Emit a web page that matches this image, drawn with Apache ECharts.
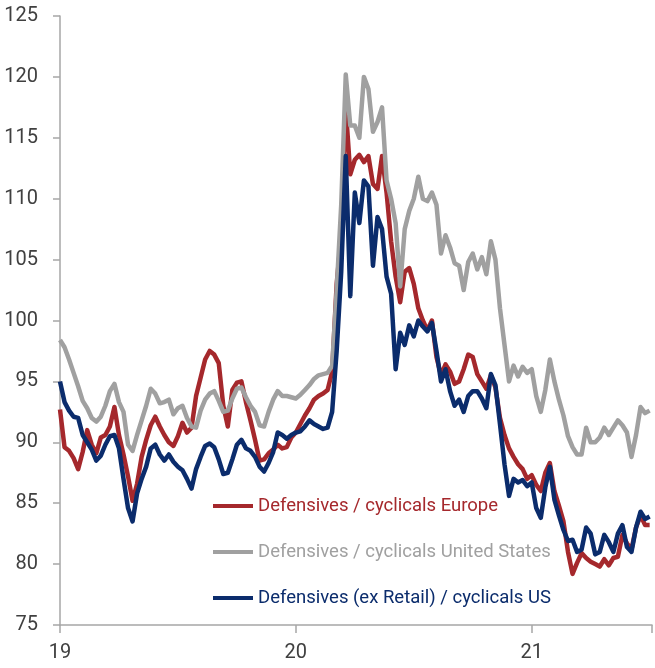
<!DOCTYPE html>
<html>
<head>
<meta charset="utf-8">
<script src="https://cdn.jsdelivr.net/npm/echarts@6/dist/echarts.min.js"></script>
<style>
html,body{margin:0;padding:0;background:#fff;}
#chart{width:655px;height:668px;}
</style>
</head>
<body>
<div id="chart"></div>
<script>
// Weekly observations starting first week of January 2019 (x = 2019 + week/52)
const startYear = 2019;
const weeksPerYear = 52;
const xMax = 2021.51;
const yearTicks = ['19', '20', '21'];
const seriesNames = [
  'Defensives / cyclicals Europe',
  'Defensives / cyclicals United States',
  'Defensives (ex Retail) / cyclicals US'
];
const seriesColors = ['#A5282C', '#A0A0A0', '#0B2C6C'];

const europe = [
  92.7, 89.6, 89.3, 88.7, 87.8, 89.2, 91.0, 89.8, 89.1, 90.4,
  90.6, 91.3, 92.9, 90.6, 89.0, 87.2, 85.2, 86.6, 88.8, 90.2,
  91.4, 92.1, 91.3, 90.6, 90.0, 89.7, 90.5, 91.6, 90.8, 91.2,
  93.8, 95.3, 96.8, 97.5, 97.2, 96.5, 93.0, 91.3, 94.3, 94.9,
  95.0, 93.3, 91.8, 90.2, 88.5, 88.6, 89.1, 89.4, 89.8, 89.5,
  89.6, 90.4, 90.8, 91.5, 92.2, 92.8, 93.5, 93.8, 94.0, 94.3,
  95.8, 103.0, 107.0, 117.5, 112.0, 113.2, 113.6, 113.0, 113.5, 111.2,
  110.8, 113.5, 110.5, 106.5, 103.6, 101.5, 104.0, 104.3, 103.0, 101.0,
  100.0, 99.2, 100.0, 97.0, 95.5, 96.4, 95.8, 94.8, 95.0, 96.0,
  97.2, 97.0, 95.6, 95.0, 94.4, 95.5, 94.5, 92.0, 90.6, 89.5,
  88.8, 88.2, 87.8, 87.0, 87.3, 86.5, 86.0, 87.5, 88.3, 86.0,
  84.8, 83.5, 81.0, 79.2, 80.1, 80.9, 80.5, 80.2, 80.0, 79.8,
  80.4, 79.9, 80.5, 80.6, 82.4, 81.7, 81.2, 83.0, 84.0, 83.2,
  83.2
];

const unitedStates = [
  98.4, 97.8, 96.8, 95.7, 94.6, 93.4, 92.8, 92.0, 91.7, 92.1,
  93.0, 94.2, 94.8, 93.3, 92.5, 89.8, 89.3, 90.6, 91.8, 93.0,
  94.4, 94.0, 93.2, 93.3, 93.5, 92.3, 92.8, 93.0, 92.0, 91.3,
  91.2, 92.6, 93.5, 94.0, 94.2, 93.4, 92.5, 92.6, 93.6, 94.4,
  94.5, 93.7, 93.0, 92.5, 91.4, 91.3, 92.5, 93.5, 94.2, 93.8,
  93.8, 93.7, 93.6, 93.9, 94.3, 94.7, 95.2, 95.5, 95.6, 95.7,
  96.3, 102.5, 109.5, 120.2, 116.0, 116.0, 115.0, 120.0, 119.0, 115.5,
  116.3, 117.5, 111.5, 110.0, 108.0, 102.8, 107.5, 109.0, 110.0, 111.8,
  110.0, 109.8, 110.5, 109.5, 105.5, 107.0, 106.0, 104.7, 104.5, 102.5,
  104.8, 105.5, 104.2, 105.2, 103.8, 106.5, 105.0, 101.0, 98.0, 95.0,
  96.3, 95.4, 96.2, 95.7, 96.0, 93.8, 92.5, 94.3, 96.8, 95.0,
  93.5, 92.2, 90.5, 89.6, 89.0, 89.0, 91.2, 90.0, 90.0, 90.4,
  91.2, 90.6, 91.2, 91.8, 91.4, 90.8, 88.8, 90.6, 92.9, 92.4,
  92.6
];

const usExRetail = [
  95.0, 93.3, 92.6, 92.1, 92.0, 90.6, 90.0, 89.4, 88.5, 88.9,
  89.8, 90.5, 90.6, 89.5, 87.0, 84.6, 83.5, 85.8, 87.0, 88.0,
  89.5, 89.8, 89.0, 88.5, 89.0, 88.4, 88.0, 87.7, 87.0, 86.2,
  87.8, 88.8, 89.7, 89.9, 89.6, 88.6, 87.4, 87.5, 88.6, 89.8,
  90.2, 89.5, 89.3, 88.8, 88.0, 87.6, 88.3, 89.2, 90.8, 90.6,
  90.3, 90.6, 90.8, 90.9, 91.3, 91.8, 91.5, 91.3, 91.1, 91.2,
  92.5, 97.5, 104.0, 113.5, 102.0, 110.5, 108.0, 111.5, 111.0, 104.5,
  108.5, 107.5, 103.6, 102.2, 96.0, 99.0, 98.0, 99.6, 98.7, 100.0,
  99.5, 99.1, 99.8, 97.5, 95.0, 96.0, 94.2, 93.0, 93.5, 92.5,
  93.8, 94.2, 94.2, 93.6, 92.8, 95.6, 94.7, 91.5, 88.2, 85.6,
  87.0, 86.7, 86.9, 86.4, 86.7, 84.6, 83.8, 86.3, 88.0, 85.3,
  84.0, 82.8, 81.9, 82.0, 81.0, 81.2, 83.0, 82.5, 80.8, 81.0,
  82.4, 81.8, 81.0, 82.5, 83.2, 81.4, 81.0, 83.0, 84.3, 83.7,
  83.9
];

const toPairs = arr => arr.map((v, i) => [startYear + i / weeksPerYear, v]);

const FONT = 'Roboto, "Liberation Sans", sans-serif';
const chart = echarts.init(document.getElementById('chart'), null, { renderer: 'canvas' });

const allSeries = [europe, unitedStates, usExRetail];

chart.setOption({
  animation: false,
  backgroundColor: '#ffffff',
  grid: { left: 60, right: 0, top: 16, bottom: 43, containLabel: false },
  legend: {
    orient: 'vertical',
    left: 213,
    top: 494,
    padding: 0,
    itemWidth: 40,
    itemHeight: 4,
    itemGap: 22,
    icon: 'rect',
    data: seriesNames.map((n, k) => ({
      name: n,
      textStyle: { color: seriesColors[k] }
    })),
    textStyle: { fontFamily: FONT, fontSize: 18.5, lineHeight: 24 }
  },
  xAxis: {
    type: 'value',
    min: startYear,
    max: xMax,
    interval: 1,
    splitLine: { show: false },
    axisLine: { show: true, lineStyle: { color: '#a6a6a6', width: 1.5 } },
    axisTick: { show: true, length: 8, lineStyle: { color: '#a6a6a6', width: 1.5 } },
    axisLabel: {
      margin: 18,
      fontFamily: FONT,
      fontSize: 20,
      color: '#404040',
      formatter: v => {
        const idx = Math.round(v) - startYear;
        return Math.abs(v - Math.round(v)) < 1e-6 && idx >= 0 && idx < yearTicks.length ? yearTicks[idx] : '';
      }
    }
  },
  yAxis: {
    type: 'value',
    min: 75,
    max: 125,
    interval: 5,
    splitLine: { show: false },
    axisLine: { show: true, lineStyle: { color: '#a6a6a6', width: 1.5 } },
    axisTick: { show: true, length: 7, lineStyle: { color: '#a6a6a6', width: 1.5 } },
    axisLabel: {
      margin: 22,
      fontFamily: FONT,
      fontSize: 20,
      color: '#404040'
    }
  },
  series: allSeries.map((arr, k) => ({
    name: seriesNames[k],
    type: 'line',
    data: toPairs(arr),
    symbol: 'none',
    showSymbol: false,
    lineStyle: { color: seriesColors[k], width: 4.5, join: 'round' },
    itemStyle: { color: seriesColors[k] },
    z: 2 + k
  }))
});
</script>
</body>
</html>
